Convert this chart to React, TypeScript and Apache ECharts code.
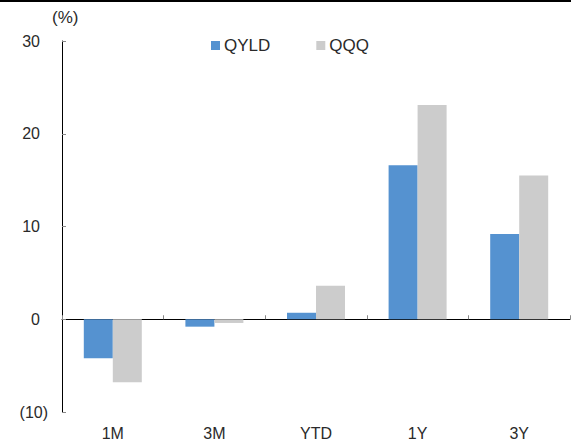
import React, { useEffect, useRef } from "react";
import * as echarts from "echarts";

const categories = ["1M", "3M", "YTD", "1Y", "3Y"];
const qyld = [-4.2, -0.8, 0.7, 16.6, 9.2];
const qqq = [-6.8, -0.4, 3.6, 23.1, 15.5];
const seriesNames = ["QYLD", "QQQ"];
const unitLabel = "(%)";

const FONT = "'Liberation Sans', Arial, sans-serif";
const TXT = "#2a2a2a";

export default function App() {
  const ref = useRef<HTMLDivElement>(null);
  useEffect(() => {
    document.body.style.margin = "0";
    const chart = echarts.init(ref.current!, null, { renderer: "svg" });
    chart.setOption({
      animation: false,
      backgroundColor: "#ffffff",
      textStyle: { fontFamily: FONT, color: TXT },
      grid: { left: 62, right: 1, top: 41, bottom: 27, containLabel: false },
      legend: {
        data: seriesNames,
        left: 206,
        top: 32,
        icon: "rect",
        itemWidth: 9,
        itemHeight: 9,
        itemGap: 46,
        textStyle: { fontFamily: FONT, fontSize: 17, color: TXT, padding: [0, 0, 0, -1] },
      },
      graphic: [
        {
          type: "line",
          shape: { x1: 0, y1: 1, x2: 571, y2: 1 },
          style: { stroke: "#000", lineWidth: 2 },
        },
        {
          type: "text",
          left: 52,
          top: 9,
          style: { text: unitLabel, fontFamily: FONT, fontSize: 17, fill: TXT },
        },
      ],
      xAxis: [
        {
          type: "category",
          data: categories,
          axisLine: { onZero: true, lineStyle: { color: "#000", width: 1 } },
          axisTick: { show: true, inside: true, length: 4, lineStyle: { color: "#888" } },
          axisLabel: { show: false },
          splitLine: { show: false },
        },
        {
          type: "category",
          data: categories,
          position: "bottom",
          axisLine: { show: false, onZero: false },
          axisTick: { show: false },
          axisLabel: { show: true, margin: 13, fontFamily: FONT, fontSize: 16, color: TXT },
        },
      ],
      yAxis: {
        type: "value",
        min: -10,
        max: 30,
        interval: 10,
        axisLine: { show: true, lineStyle: { color: "#000", width: 1 } },
        axisTick: { show: true, inside: true, length: 4, lineStyle: { color: "#888" } },
        splitLine: { show: false },
        axisLabel: {
          margin: 14,
          fontFamily: FONT,
          fontSize: 16,
          color: TXT,
          formatter: (v: number) => (v < 0 ? `(${Math.abs(v)})` : `{p|${v}}`),
          rich: { p: { fontFamily: FONT, fontSize: 16, color: TXT, padding: [0, 8, 0, 0] } },
        },
      },
      series: [
        {
          name: seriesNames[0],
          type: "bar",
          xAxisIndex: 0,
          data: qyld,
          barWidth: 29,
          barGap: "0%",
          itemStyle: { color: "#5592D0" },
        },
        {
          name: seriesNames[1],
          type: "bar",
          xAxisIndex: 0,
          data: qqq,
          barWidth: 29,
          barGap: "0%",
          itemStyle: { color: "#CCCCCC" },
        },
      ],
    });
    return () => chart.dispose();
  }, []);
  return <div ref={ref} style={{ position: "absolute", left: 0, top: 0, width: 571, height: 441 }} />;
}
